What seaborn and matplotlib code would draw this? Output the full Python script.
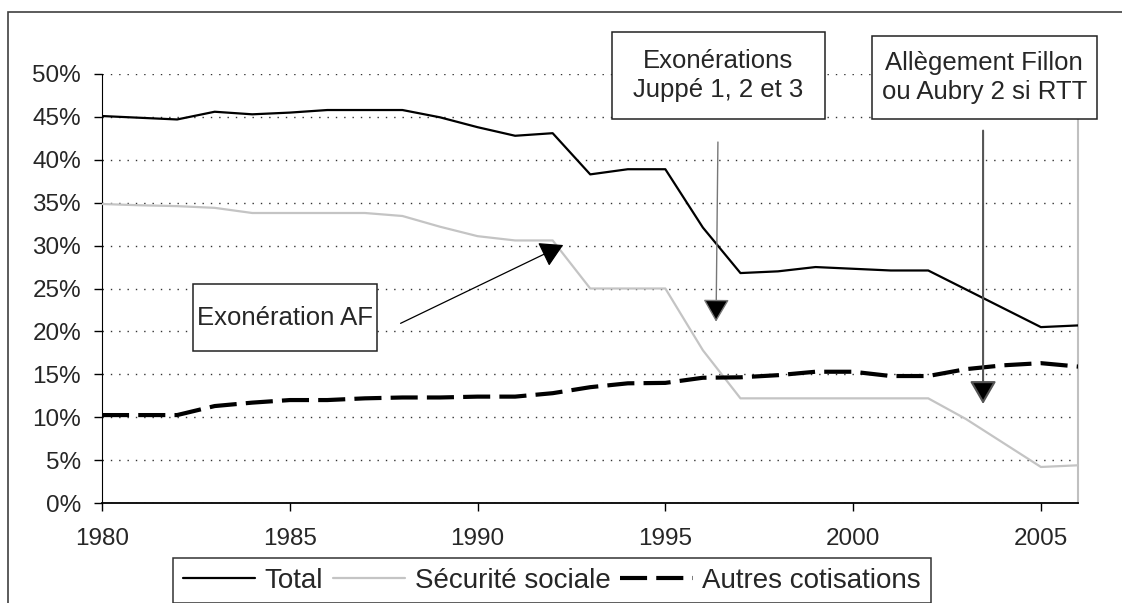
import matplotlib
matplotlib.use("Agg")
import matplotlib.pyplot as plt
from matplotlib.patches import Rectangle
import seaborn as sns
import pandas as pd

# taux de cotisations (en %)
annees = list(range(1980, 2007))
total = [45.1, 44.9, 44.7, 45.6, 45.3, 45.5, 45.8, 45.8, 45.8, 44.95,
         43.8, 42.8, 43.1, 38.3, 38.9, 38.9, 32.1, 26.8, 27.0, 27.5,
         27.3, 27.1, 27.1, 24.9, 22.7, 20.5, 20.7]
secu = [34.85, 34.7, 34.6, 34.4, 33.8, 33.8, 33.8, 33.8, 33.45, 32.2,
        31.1, 30.6, 30.6, 25.0, 25.0, 25.0, 17.8, 12.2, 12.2, 12.2,
        12.2, 12.2, 12.2, 9.8, 7.0, 4.2, 4.4]
autres = [10.25, 10.25, 10.25, 11.3, 11.7, 12.0, 12.0, 12.2, 12.3, 12.3,
          12.4, 12.4, 12.8, 13.5, 13.95, 14.0, 14.6, 14.65, 14.9, 15.3,
          15.3, 14.8, 14.8, 15.6, 16.05, 16.3, 15.9]
y_ticks = [0, 5, 10, 15, 20, 25, 30, 35, 40, 45, 50]
x_ticks = [1980, 1985, 1990, 1995, 2000, 2005]

df = pd.DataFrame({"annee": annees, "Total": total,
                   "Sécurité sociale": secu, "Autres cotisations": autres})

sns.set_style("ticks")
plt.rcParams["font.family"] = ["Liberation Sans", "DejaVu Sans"]

fig = plt.figure(figsize=(11.22, 6.03), dpi=100)
ax = fig.add_axes([0.0909, 0.1658, 0.8703, 0.7115])

sns.lineplot(data=df, x="annee", y="Total", ax=ax, color="black",
             linewidth=1.6, label="Total", zorder=4)
sns.lineplot(data=df, x="annee", y="Sécurité sociale", ax=ax, color="#c4c4c4",
             linewidth=1.6, label="Sécurité sociale", zorder=3)
sns.lineplot(data=df, x="annee", y="Autres cotisations", ax=ax, color="black",
             linewidth=3, linestyle=(0, (6.5, 2.2)), label="Autres cotisations",
             zorder=4)

ax.set_xlim(1980, 2006)
ax.set_ylim(0, 50)
ax.set_xticks(x_ticks)
ax.set_yticks(y_ticks)
ax.set_yticklabels([f"{v}%" for v in y_ticks])
ax.set_xlabel("")
ax.set_ylabel("")
ax.tick_params(axis="both", labelsize=17.5, direction="out", length=6,
               width=1, color="black")
ax.tick_params(axis="x", pad=12)
ax.tick_params(axis="y", pad=9)

ax.yaxis.grid(True, color="#333333", linestyle=(0, (1, 5)), linewidth=1)
ax.set_axisbelow(True)
ax.spines["top"].set_visible(False)
ax.spines["left"].set_color("black")
ax.spines["bottom"].set_color("black")
ax.spines["bottom"].set_linewidth(1.3)
ax.spines["right"].set_color("#c0c0c0")
ax.spines["right"].set_linewidth(1.5)

# encadrés et flèches
boxes = [
    ((1982.42, 17.72), 4.90, 7.80, (1984.87, 21.62), "Exonération AF"),
    ((1993.57, 44.76), 5.67, 10.17, (1996.40, 49.85), "Exonérations\nJuppé 1, 2 et 3"),
    ((2000.50, 44.72), 5.99, 9.74, (2003.49, 49.59), "Allègement Fillon\nou Aubry 2 si RTT"),
]
for (x0, y0), w, h, (tx, ty), txt in boxes:
    ax.add_patch(Rectangle((x0, y0), w, h, facecolor="white", edgecolor="#222222",
                           linewidth=1.1, clip_on=False, zorder=6))
    ax.text(tx, ty, txt, ha="center", va="center", fontsize=18.5,
            linespacing=1.25, zorder=7, clip_on=False)

arrows = [
    ((1987.95, 20.94), (1992.28, 30.07), "black", 0.9),
    ((1996.40, 42.07), (1996.35, 21.13), "#777777", 1.0),
    ((2003.46, 43.4), (2003.46, 11.54), "#555555", 1.5),
]
for start, tip, col, lw in arrows:
    ax.annotate("", xy=tip, xytext=start,
                arrowprops=dict(arrowstyle="-|>,head_length=0.95,head_width=0.55",
                                mutation_scale=15, color=col, lw=lw,
                                shrinkA=0, shrinkB=0, fc="black", ec=col),
                zorder=5)

leg = ax.legend(loc="upper left", bbox_to_anchor=(173 / 1122, 1 - 558 / 603),
                bbox_transform=fig.transFigure, ncol=3, fontsize=20,
                frameon=True, fancybox=False, edgecolor="black",
                handlelength=2.6, handletextpad=0.35, columnspacing=0.35,
                borderpad=0.35, borderaxespad=0)
leg.get_frame().set_linewidth(1.1)

# cadre extérieur du graphique
fig.add_artist(Rectangle((8 / 1122, -0.1), 1.2, 1.1 - 12 / 603, fill=False,
                         edgecolor="#404040", linewidth=1.2,
                         transform=fig.transFigure))

fig.savefig("out.png", dpi=100)
